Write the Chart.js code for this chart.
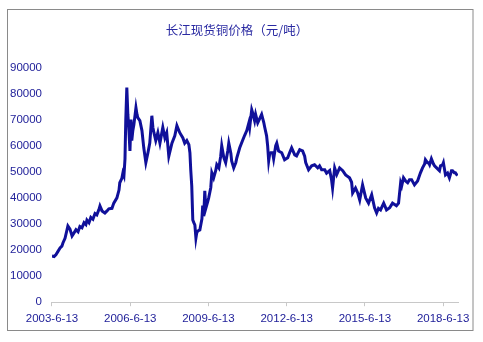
<!DOCTYPE html>
<html>
<head>
<meta charset="utf-8">
<script src="https://cdn.jsdelivr.net/npm/chart.js@4"></script>
<style>
  html, body { margin: 0; padding: 0; background: #fff; }
  #wrap { width: 483px; height: 342px; }
</style>
</head>
<body>
<div id="wrap"><canvas id="chart-cobre" width="483" height="342"></canvas></div>
<script>
// ── Datos: precio spot del cobre Changjiang (元/吨) ──
const titulo = '长江现货铜价格（元/吨）';
const etiquetasX = ['2003-6-13', '2006-6-13', '2009-6-13', '2012-6-13', '2015-6-13', '2018-6-13'];
const ticksY = [0, 10000, 20000, 30000, 40000, 50000, 60000, 70000, 80000, 90000];

// fechas en años decimales
const fechas = [
  2003.45, 2003.53, 2003.60, 2003.68, 2003.76, 2003.83, 2003.87, 2003.95, 2004.02, 2004.06,
  2004.14, 2004.22, 2004.29, 2004.37, 2004.45, 2004.52, 2004.60, 2004.68, 2004.75, 2004.79,
  2004.87, 2004.94, 2005.02, 2005.10, 2005.17, 2005.25, 2005.29, 2005.37, 2005.48, 2005.56,
  2005.63, 2005.75, 2005.82, 2005.94, 2006.02, 2006.05, 2006.13, 2006.17, 2006.21, 2006.25,
  2006.28, 2006.32, 2006.36, 2006.40, 2006.44, 2006.48, 2006.51, 2006.55, 2006.59, 2006.67,
  2006.71, 2006.74, 2006.82, 2006.90, 2006.97, 2007.05, 2007.13, 2007.20, 2007.28, 2007.32,
  2007.36, 2007.43, 2007.51, 2007.59, 2007.70, 2007.78, 2007.85, 2007.93, 2008.05, 2008.16,
  2008.24, 2008.35, 2008.47, 2008.54, 2008.62, 2008.70, 2008.74, 2008.77, 2008.81, 2008.85,
  2008.89, 2008.93, 2008.97, 2009.00, 2009.04, 2009.12, 2009.20, 2009.23, 2009.27, 2009.31,
  2009.35, 2009.42, 2009.46, 2009.54, 2009.58, 2009.65, 2009.73, 2009.77, 2009.85, 2009.92,
  2009.96, 2010.04, 2010.11, 2010.19, 2010.23, 2010.31, 2010.34, 2010.42, 2010.50, 2010.54,
  2010.65, 2010.77, 2010.84, 2010.92, 2011.00, 2011.03, 2011.11, 2011.15, 2011.22, 2011.26,
  2011.34, 2011.42, 2011.49, 2011.57, 2011.61, 2011.68, 2011.72, 2011.76, 2011.80, 2011.84,
  2011.91, 2011.95, 2012.03, 2012.07, 2012.14, 2012.26, 2012.37, 2012.49, 2012.57, 2012.64,
  2012.76, 2012.83, 2012.95, 2013.06, 2013.14, 2013.18, 2013.29, 2013.41, 2013.52, 2013.64,
  2013.71, 2013.79, 2013.91, 2013.98, 2014.10, 2014.17, 2014.21, 2014.29, 2014.37, 2014.48,
  2014.60, 2014.71, 2014.86, 2014.94, 2014.98, 2015.09, 2015.17, 2015.25, 2015.36, 2015.48,
  2015.59, 2015.71, 2015.82, 2015.90, 2015.97, 2016.05, 2016.17, 2016.28, 2016.40, 2016.51,
  2016.59, 2016.66, 2016.74, 2016.82, 2016.86, 2016.93, 2017.01, 2017.09, 2017.16, 2017.24,
  2017.35, 2017.47, 2017.58, 2017.66, 2017.74, 2017.77, 2017.85, 2017.89, 2017.93, 2018.00,
  2018.08, 2018.12, 2018.20, 2018.31, 2018.35, 2018.43, 2018.46, 2018.54, 2018.62, 2018.69,
  2018.77, 2018.81, 2018.88, 2018.92, 2019.00
];

const precios = [
  17700, 17500, 18200, 19500, 20800, 21500, 22700, 24500, 27500, 29200,
  28000, 25400, 26500, 27800, 27000, 29000, 28500, 30500, 29800, 31500,
  30500, 32500, 31800, 34000, 33500, 35500, 36900, 35000, 34200, 35000,
  35800, 36000, 38000, 40000, 43000, 45800, 47500, 49600, 48500, 55000,
  70000, 82300, 72000, 66000, 58000, 70000, 62000, 65800, 68000, 74600,
  72000, 70800, 69600, 65800, 59200, 53500, 57300, 61000, 71500, 67000,
  65000, 62000, 65000, 61000, 67000, 63000, 65000, 56000, 61000, 63800,
  67700, 65000, 63000, 61000, 62000, 60400, 57300, 51000, 44600, 31500,
  30500, 29600, 24600, 26500, 27300, 27700, 32000, 37000, 33000, 42700,
  36000, 38500, 40000, 44000, 49600, 47700, 50500, 52700, 51500, 56000,
  60000, 55400, 53500, 58000, 61000, 57000, 54200, 51500, 53500, 55400,
  59200, 62300, 64000, 65800, 68800, 67000, 73800, 72500, 69600, 72000,
  68800, 70500, 72000, 69000, 67000, 63800, 60000, 54200, 57000, 57300,
  57300, 55000, 60000, 61000, 58000, 57300, 54600, 55400, 57500, 59200,
  56500, 56100, 58500, 58000, 56000, 53500, 50800, 52300, 52700, 51500,
  52300, 50800, 50800, 49500, 50500, 47000, 43800, 51500, 49000, 51500,
  50400, 48800, 47700, 46000, 41900, 43800, 42000, 39200, 45000, 40000,
  38000, 41200, 36200, 34200, 36000, 35400, 38000, 35400, 36200, 38000,
  37500, 37000, 38000, 45800, 44600, 47700, 46500, 45800, 47000, 47000,
  45000, 46500, 49600, 51500, 53000, 54600, 53500, 53500, 52700, 55000,
  53000, 52300, 51500, 50400, 52300, 52700, 53500, 48800, 49500, 47700,
  50400, 50400, 49600, 49600, 48500
];

// '2003-6-13' → año decimal
function aAnio(txt) {
  const [a, m, d] = txt.split('-').map(Number);
  return a + (m - 1 + (d - 1) / 30) / 12;
}
const posTicksX = etiquetasX.map(aAnio);

const azulTexto = '#22229a';
const fuenteNum = "'Liberation Sans', Arial, sans-serif";

// Marco gris y título centrado en el marco
const marco = {
  id: 'marco',
  beforeDraw(chart) {
    const ctx = chart.ctx;
    ctx.save();
    ctx.fillStyle = '#fff';
    ctx.fillRect(0, 0, chart.width, chart.height);
    ctx.strokeStyle = '#8a8a8a';
    ctx.lineWidth = 1;
    ctx.strokeRect(7.5, 9.5, 465.5, 321);
    ctx.fillStyle = '#2a2aa2';
    ctx.font = "12.5px 'Noto Sans CJK SC', sans-serif";
    ctx.textAlign = 'center';
    ctx.textBaseline = 'middle';
    ctx.fillText(titulo, 237, 30);
    ctx.restore();
  }
};

new Chart(document.getElementById('chart-cobre').getContext('2d'), {
  type: 'line',
  data: {
    datasets: [{
      label: titulo,
      data: fechas.map((f, i) => ({ x: f, y: precios[i] })),
      borderColor: '#10109a',
      borderWidth: 3,
      pointRadius: 0,
      tension: 0,
      fill: false,
    }]
  },
  options: {
    responsive: false,
    animation: false,
    layout: { padding: { left: 0, right: 25, top: 67.5, bottom: 10 } },
    plugins: {
      legend: { display: false },
      tooltip: { enabled: false },
      title: { display: false }
    },
    scales: {
      x: {
        type: 'linear',
        min: posTicksX[0],
        max: 2019.02,
        afterBuildTicks: s => { s.ticks = posTicksX.map(v => ({ value: v })); },
        // sin relleno extra por las etiquetas de los extremos
        afterFit: s => { s.paddingLeft = 0; s.paddingRight = 0; },
        grid: { drawOnChartArea: false, tickLength: 4, color: '#c8c8c8' },
        border: { color: '#c8c8c8' },
        ticks: {
          autoSkip: false,
          maxRotation: 0,
          padding: 6,
          color: azulTexto,
          font: { family: fuenteNum, size: 11.5 },
          callback: (v, i) => etiquetasX[i],
        }
      },
      y: {
        min: 0,
        max: 90000,
        afterBuildTicks: s => { s.ticks = ticksY.map(v => ({ value: v })); },
        grid: { display: false, drawTicks: false },
        border: { display: false },
        ticks: {
          padding: 10,
          color: azulTexto,
          font: { family: fuenteNum, size: 11.5 },
          callback: v => String(v),
        }
      }
    }
  },
  plugins: [marco]
});
</script>
</body>
</html>
